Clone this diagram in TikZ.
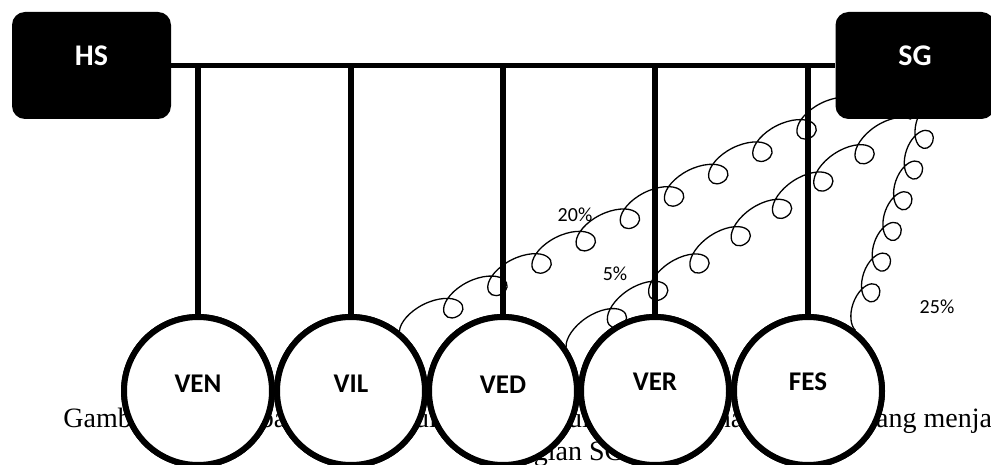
\documentclass[tikz,border=0pt]{standalone}
\usepackage{fontspec}
\setmainfont{Liberation Serif}
\newfontfamily\labelfont{Carlito}
\usetikzlibrary{decorations.pathmorphing}

\begin{document}
\begin{tikzpicture}[x=1pt,y=-1pt,
    blok/.style={fill=black,rounded corners=13pt,minimum width=159pt,minimum height=107pt,inner sep=0pt},
    blokteks/.style={text=white,font=\labelfont\bfseries\fontsize{30}{30}\selectfont},
    lingkaran/.style={circle,draw,line width=6pt,fill=white,minimum size=148pt,inner sep=0pt},
    lingteks/.style={font=\labelfont\bfseries\fontsize{27}{27}\selectfont},
    persen/.style={font=\labelfont\fontsize{20}{20}\selectfont},
    keterangan/.style={font=\fontsize{28}{28}\selectfont,inner sep=0pt},
    spiraal/.style={decorate,decoration={coil,amplitude=13pt,segment length=49.5pt,aspect=1.6},line width=1.3pt}]
        \useasboundingbox (0,0) rectangle (991,465);
        \clip (0,0) rectangle (991,465);

        % sisa teks keterangan di belakang lingkaran
        \node[keterangan,anchor=base east] (k1) at (132,427) {Gamb};
        \node[keterangan,anchor=base] (k2) at (273,427) {ba};
        \node[keterangan,anchor=base] (k3) at (426,427) {ul};
        \node[keterangan,anchor=base] (k4) at (579,427) {ul};
        \node[keterangan,anchor=base] (k5) at (730,427) {ha};
        \node[keterangan,anchor=base west] (k6) at (876,427) {ang menja};
        \node[keterangan,anchor=base east] (k7) at (625,460) {gian SG};

        % ujung spiral masuk ke kotak SG
        \coordinate (e1) at (874,91);
        \coordinate (e2) at (930,106);
        \coordinate (e3) at (937,96);

        \node[lingkaran] (ven) at (198,391) {};
        \node[lingkaran] (vil) at (351,391) {};
        \node[lingkaran] (ved) at (503,391) {};
        \node[lingkaran] (ver) at (655,391) {};
        \node[lingkaran] (fes) at (808,391) {};

        \draw[spiraal] (vil.51) -- (e1);
        \draw[spiraal] (ved.35) -- (e2);
        \draw[spiraal,decoration={amplitude=11pt,segment length=32.5pt,aspect=1.5}] (fes.52) -- (e3);

        % kotak HS dan SG
        \node[blok,label={[blokteks,yshift=10pt]center:HS}] (hs) at (91.5,65.5) {};
        \node[blok,label={[blokteks,yshift=10pt]center:SG}] (sg) at (915,65.5) {};

        \draw[line width=5pt] (hs.east) -- (sg.west);
        \foreach \v in {ven,vil,ved,ver,fes}
            \draw[line width=6pt] (\v.north) -- (\v.north |- hs.east);

        % lingkaran digambar ulang di atas garis
        \foreach \v in {ven,vil,ved,ver,fes}
            \draw[line width=6pt,fill=white] (\v) circle (74pt);
        \node[lingteks] (tven) at ([yshift=7pt]ven) {VEN};
        \node[lingteks] (tvil) at ([yshift=7pt]vil) {VIL};
        \node[lingteks] (tved) at ([yshift=6pt]ved) {VED};
        \node[lingteks] (tver) at ([yshift=9pt]ver) {VER};
        \node[lingteks] (tfes) at ([yshift=9pt]fes) {FES};

        \node[persen] (p20) at (575,215) {20\%};
        \node[persen] (p5) at (615,274) {5\%};
        \node[persen] (p25) at (937,307) {25\%};
    \end{tikzpicture}
\end{document}
